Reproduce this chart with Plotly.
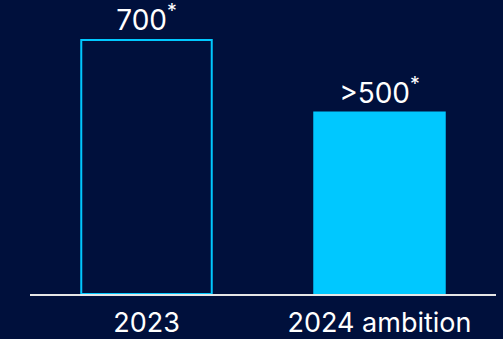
import plotly.graph_objects as go

categories = ["2023", "2024 ambition"]
values = [700, 500]
labels = ["700<sup>*</sup>", ">500<sup>*</sup>"]

BG = "#00103C"
CYAN = "#00C8FF"

fig = go.Figure()
fig.add_trace(go.Bar(
    x=categories,
    y=values,
    text=labels,
    textposition="outside",
    textfont=dict(color="white", size=28, family="Inter"),
    cliponaxis=False,
    marker=dict(color=[BG, CYAN], line=dict(color=[CYAN, CYAN], width=2)),
    hoverinfo="skip",
))

fig.update_layout(
    width=503, height=339,
    paper_bgcolor=BG, plot_bgcolor=BG,
    margin=dict(l=30, r=7, t=20, b=45),
    bargap=0.44,
    showlegend=False,
    font=dict(family="Inter", color="white"),
    uniformtext=dict(minsize=28, mode="show"),
)
fig.update_xaxes(
    range=[-0.5, 1.5],
    automargin=False,
    showline=True, linecolor="#E6E6E6", linewidth=1.5,
    showgrid=False, zeroline=False,
    ticks="outside", ticklen=4, tickcolor="rgba(0,0,0,0)",
    tickfont=dict(size=27, color="white", family="Inter"),
)
fig.update_yaxes(
    range=[0, 755],
    automargin=False,
    visible=False, showgrid=False, zeroline=False,
)

fig.write_html(
    "out.html",
    config={"displayModeBar": False},
    post_script="document.body.style.margin='0';document.body.style.background='#00103C';",
)
